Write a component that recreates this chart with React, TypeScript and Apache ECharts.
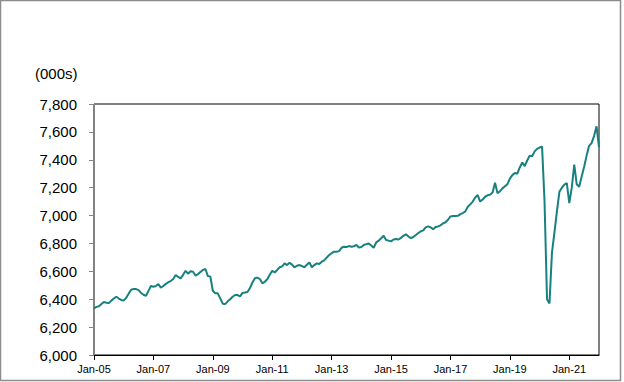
import React, { useEffect, useRef } from "react";
import * as echarts from "echarts";

const monthNames = ["Jan", "Feb", "Mar", "Apr", "May", "Jun", "Jul", "Aug", "Sep", "Oct", "Nov", "Dec"];

const v2005 = [6335, 6345, 6350, 6365, 6380, 6375, 6372, 6390, 6405, 6418, 6405, 6395];
const v2006 = [6390, 6410, 6440, 6468, 6473, 6473, 6465, 6445, 6432, 6425, 6460, 6495];
const v2007 = [6490, 6495, 6508, 6482, 6495, 6510, 6522, 6530, 6545, 6574, 6560, 6550];
const v2008 = [6575, 6604, 6583, 6600, 6597, 6570, 6580, 6595, 6610, 6617, 6566, 6562];
const v2009 = [6461, 6442, 6442, 6406, 6368, 6365, 6385, 6400, 6418, 6430, 6430, 6420];
const v2010 = [6445, 6448, 6452, 6480, 6520, 6550, 6555, 6545, 6514, 6525, 6543, 6575];
const v2011 = [6604, 6592, 6610, 6629, 6636, 6657, 6645, 6662, 6648, 6629, 6640, 6645];
const v2012 = [6638, 6629, 6648, 6664, 6629, 6645, 6657, 6652, 6669, 6678, 6698, 6717];
const v2013 = [6730, 6741, 6741, 6745, 6769, 6777, 6775, 6781, 6777, 6780, 6789, 6770];
const v2014 = [6775, 6789, 6795, 6800, 6785, 6769, 6808, 6820, 6837, 6855, 6825, 6820];
const v2015 = [6815, 6828, 6832, 6828, 6840, 6855, 6866, 6850, 6838, 6846, 6860, 6875];
const v2016 = [6886, 6894, 6915, 6922, 6915, 6902, 6918, 6922, 6930, 6944, 6952, 6970];
const v2017 = [6994, 6997, 6997, 6998, 7010, 7018, 7030, 7063, 7080, 7100, 7130, 7147];
const v2018 = [7100, 7115, 7135, 7145, 7150, 7165, 7235, 7160, 7175, 7195, 7210, 7225];
const v2019 = [7265, 7290, 7305, 7300, 7345, 7380, 7355, 7395, 7430, 7425, 7460, 7478];
const v2020 = [7488, 7494, 7100, 6400, 6370, 6735, 6880, 7030, 7170, 7200, 7222, 7232];
const v2021 = [7090, 7200, 7365, 7225, 7207, 7280, 7350, 7430, 7500, 7520, 7570, 7640];
const v2022 = [7490];

const yearlyValues = [v2005, v2006, v2007, v2008, v2009, v2010, v2011, v2012, v2013, v2014, v2015, v2016, v2017, v2018, v2019, v2020, v2021, v2022];
const startYear = 2005;

const values: number[] = [];
const categories: string[] = [];
yearlyValues.forEach((arr, yi) => {
  arr.forEach((v, mi) => {
    values.push(v);
    const yy = String((startYear + yi) % 100).padStart(2, "0");
    categories.push(`${monthNames[mi]}-${yy}`);
  });
});

const yMin = 6000;
const yMax = 7800;
const yStep = 200;

export default function App() {
  const ref = useRef<HTMLDivElement>(null);
  useEffect(() => {
    document.body.style.margin = "0";
    if (!ref.current) return;
    const chart = echarts.init(ref.current, undefined, { renderer: "svg" });
    const font = "'Liberation Sans', Arial, sans-serif";
    chart.setOption({
      animation: false,
      backgroundColor: "#ffffff",
      grid: {
        left: 94,
        right: 25,
        top: 104,
        bottom: 27,
        show: true,
        borderColor: "#000000",
        borderWidth: 1,
        containLabel: false,
      },
      graphic: [
        {
          type: "rect",
          shape: { x: 0.5, y: 0.5, width: 620, height: 380 },
          style: { fill: "none", stroke: "#8c8c8c", lineWidth: 1.5 },
          silent: true,
        },
        {
          type: "text",
          left: 35,
          top: 66,
          style: { text: "(000s)", font: `15px ${font}`, fill: "#000000" },
        },
      ],
      xAxis: {
        type: "category",
        data: categories,
        boundaryGap: false,
        axisLine: { show: true, lineStyle: { color: "#000000", width: 1 } },
        axisTick: { show: true, interval: 23, length: 5, lineStyle: { color: "#000000" } },
        axisLabel: {
          interval: 23,
          fontFamily: font,
          fontSize: 11,
          color: "#000000",
          margin: 8,
        },
        splitLine: { show: false },
      },
      yAxis: {
        type: "value",
        min: yMin,
        max: yMax,
        interval: yStep,
        axisLine: { show: true, lineStyle: { color: "#868686", width: 1 } },
        axisTick: { show: true, length: 5, lineStyle: { color: "#868686" } },
        axisLabel: {
          fontFamily: font,
          fontSize: 15,
          color: "#000000",
          margin: 17,
          formatter: (v: number) => v.toLocaleString("en-US"),
        },
        splitLine: { show: false },
      },
      series: [
        {
          type: "line",
          data: values,
          showSymbol: false,
          symbol: "none",
          lineStyle: { color: "#17817f", width: 2 },
        },
      ],
    });
    return () => chart.dispose();
  }, []);
  return <div ref={ref} style={{ width: 624, height: 382 }} />;
}
